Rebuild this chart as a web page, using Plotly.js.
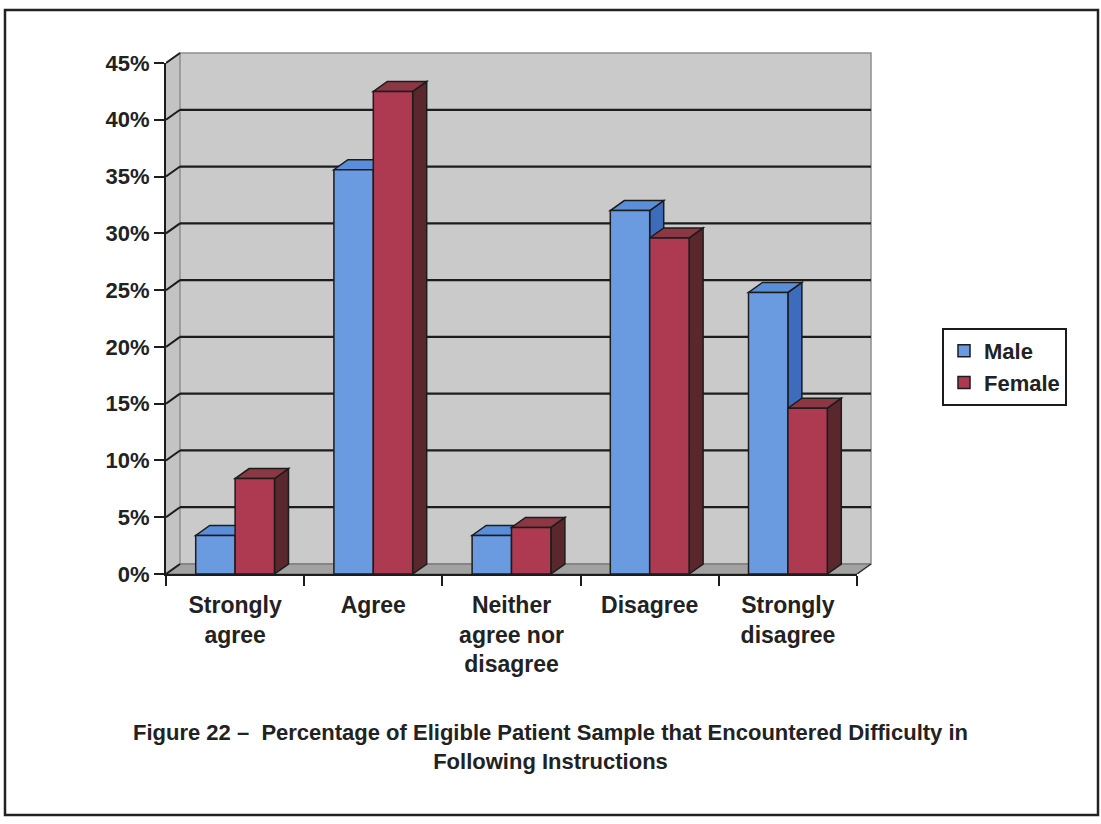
<!DOCTYPE html>
<html>
<head>
<meta charset="utf-8">
<script src="https://cdn.plot.ly/plotly-3.0.1.min.js"></script>
<style>
  html, body { margin: 0; padding: 0; background: #ffffff; }
  #chart { width: 1101px; height: 824px; }
</style>
</head>
<body>
<div id="chart"></div>
<script>
// Survey responses by gender (share of eligible patients)
const categories = ['Strongly<br>agree', 'Agree', 'Neither<br>agree nor<br>disagree', 'Disagree', 'Strongly<br>disagree'];
const seriesNames = ['Male', 'Female'];
const maleValues = [0.034, 0.356, 0.034, 0.320, 0.248];
const femaleValues = [0.084, 0.425, 0.041, 0.296, 0.146];
const yTickValues = [0, 0.05, 0.10, 0.15, 0.20, 0.25, 0.30, 0.35, 0.40, 0.45];
const titleText = 'Figure 22 \u2013\u00a0 Percentage of Eligible Patient Sample that Encountered Difficulty in<br>Following Instructions';

// Page geometry (pixels)
const W = 1101, H = 824;
const frontLeft = 166, frontRight = 857, frontBottom = 574, frontTop = 63;
const depthPx = { x: 14, y: 10 };
const plotRight = frontRight + depthPx.x + 2;
const plotTop = frontTop - depthPx.y - 2;

const yMax = yTickValues[yTickValues.length - 1];
const nCat = categories.length;
const pxPerX = (frontRight - frontLeft) / nCat;
const pxPerY = (frontBottom - frontTop) / yMax;
const ddx = depthPx.x / pxPerX;
const ddy = depthPx.y / pxPerY;
const xLo = -0.5, xHi = nCat - 0.5;
const plotW = plotRight - frontLeft, plotH = frontBottom - plotTop;

const barW = 0.285;
const ink = '#1c1c1c';
const fontFamily = '"Liberation Sans", Arial, Helvetica, sans-serif';

const palette = {
  Male:   { front: '#6a9be0', top: '#5b8ed8', side: '#3d6cbc' },
  Female: { front: '#ad3a50', top: '#8c3744', side: '#5a282c' }
};

const xIdx = categories.map((_, i) => i);
const seriesValues = [maleValues, femaleValues];

function poly(points) {
  return 'M' + points.map(p => p[0] + ',' + p[1]).join('L') + 'Z';
}

const shapes = [];

// left side wall
shapes.push({ type: 'path', xref: 'x', yref: 'y', layer: 'below',
  path: poly([[xLo, 0], [xLo, yMax], [xLo + ddx, yMax + ddy], [xLo + ddx, ddy]]),
  fillcolor: '#c3c3c3', line: { width: 0 } });
// back wall
shapes.push({ type: 'rect', xref: 'x', yref: 'y', layer: 'below',
  x0: xLo + ddx, x1: xHi + ddx, y0: ddy, y1: yMax + ddy,
  fillcolor: '#cacaca', line: { color: '#8e8e8e', width: 1.5 } });
// floor
shapes.push({ type: 'path', xref: 'x', yref: 'y', layer: 'below',
  path: poly([[xLo, 0], [xHi, 0], [xHi + ddx, ddy], [xLo + ddx, ddy]]),
  fillcolor: '#a2a2a2', line: { color: '#6a6a6a', width: 1 } });
shapes.push({ type: 'line', xref: 'x', yref: 'y', layer: 'below',
  x0: xHi, y0: 0, x1: xHi + ddx, y1: ddy, line: { color: '#333', width: 1.5 } });

// gridlines on the back wall, joined to the front axis across the side wall
yTickValues.forEach(v => {
  if (v > 0 && v < yMax) {
    shapes.push({ type: 'line', xref: 'x', yref: 'y', layer: 'below',
      x0: xLo + ddx, y0: v + ddy, x1: xHi + ddx, y1: v + ddy,
      line: { color: ink, width: 2.2 } });
  }
  shapes.push({ type: 'line', xref: 'x', yref: 'y', layer: 'below',
    x0: xLo, y0: v, x1: xLo + ddx, y1: v + ddy,
    line: { color: ink, width: 2 } });
});

// tops and sides of the columns
xIdx.forEach(i => {
  seriesNames.forEach((name, s) => {
    const v = seriesValues[s][i];
    const x0 = i - barW + s * barW;
    const x1 = x0 + barW;
    const c = palette[name];
    shapes.push({ type: 'path', xref: 'x', yref: 'y', layer: 'below',
      path: poly([[x1, 0], [x1, v], [x1 + ddx, v + ddy], [x1 + ddx, ddy]]),
      fillcolor: c.side, line: { color: ink, width: 1.5 } });
    shapes.push({ type: 'path', xref: 'x', yref: 'y', layer: 'below',
      path: poly([[x0, v], [x1, v], [x1 + ddx, v + ddy], [x0 + ddx, v + ddy]]),
      fillcolor: c.top, line: { color: ink, width: 1.5 } });
  });
});

// frame around the figure
const px2paperX = px => (px - frontLeft) / plotW;
const px2paperY = py => (frontBottom - py) / plotH;
shapes.push({ type: 'rect', xref: 'paper', yref: 'paper', layer: 'above',
  x0: px2paperX(5), x1: px2paperX(1098), y0: px2paperY(815), y1: px2paperY(10),
  line: { color: '#222', width: 2.5 } });

const traces = seriesNames.map((name, s) => ({
  type: 'bar',
  name: name,
  x: xIdx,
  y: seriesValues[s],
  width: barW,
  offset: -barW + s * barW,
  xaxis: 'x', yaxis: 'y',
  marker: { color: palette[name].front, line: { color: ink, width: 1.5 } },
  hoverinfo: 'skip'
}));
// empty trace that brings up the front-plane axes
traces.push({
  type: 'scatter', mode: 'markers', x: [null], y: [null],
  xaxis: 'x2', yaxis: 'y2', showlegend: false, hoverinfo: 'skip'
});

const axisFont = { family: fontFamily, size: 22, color: '#222', weight: 'bold' };

const layout = {
  width: W, height: H,
  margin: { l: frontLeft, r: W - plotRight, t: plotTop, b: H - frontBottom, pad: 0 },
  paper_bgcolor: '#ffffff',
  plot_bgcolor: 'rgba(0,0,0,0)',
  barmode: 'overlay',
  showlegend: true,
  font: axisFont,
  title: {
    text: titleText,
    font: { family: fontFamily, size: 22, color: '#222', weight: 'bold' },
    xref: 'container', x: 0.5, xanchor: 'center',
    yref: 'container', y: 1 - 740 / H, yanchor: 'middle'
  },
  // scene axes spanning the front plane plus depth
  xaxis: { visible: false, range: [xLo, xLo + plotW / pxPerX], domain: [0, 1], anchor: 'y', fixedrange: true },
  yaxis: { visible: false, range: [0, plotH / pxPerY], domain: [0, 1], anchor: 'x', fixedrange: true },
  // front-plane axes carrying ticks and labels
  xaxis2: {
    domain: [0, (frontRight - frontLeft) / plotW], anchor: 'y2',
    range: [xLo, xHi],
    tickmode: 'array', tickvals: xIdx, ticktext: categories,
    ticks: '', showgrid: false, zeroline: false,
    showline: true, linecolor: ink, linewidth: 2,
    minor: { tickmode: 'linear', tick0: xLo, dtick: 1, ticks: 'outside', ticklen: 10, tickwidth: 2, tickcolor: ink, showgrid: false },
    tickfont: { family: fontFamily, size: 23, color: '#222', weight: 'bold' },
    ticklabelstandoff: 9,
    fixedrange: true
  },
  yaxis2: {
    domain: [0, (frontBottom - frontTop) / plotH], anchor: 'x2',
    range: [0, yMax],
    tickmode: 'array', tickvals: yTickValues, tickformat: '.0%',
    ticks: 'outside', ticklen: 10, tickwidth: 2, tickcolor: ink,
    showgrid: false, zeroline: false,
    showline: true, linecolor: ink, linewidth: 2,
    tickfont: axisFont,
    fixedrange: true
  },
  legend: {
    x: px2paperX(942), y: px2paperY(328), xanchor: 'left', yanchor: 'top',
    bgcolor: '#ffffff', bordercolor: ink, borderwidth: 2,
    font: { family: fontFamily, size: 22, color: '#222', weight: 'bold' },
    tracegroupgap: 10, traceorder: 'normal'
  },
  shapes: shapes
};

Plotly.newPlot('chart', traces, layout, { staticPlot: true, displayModeBar: false });
</script>
</body>
</html>
